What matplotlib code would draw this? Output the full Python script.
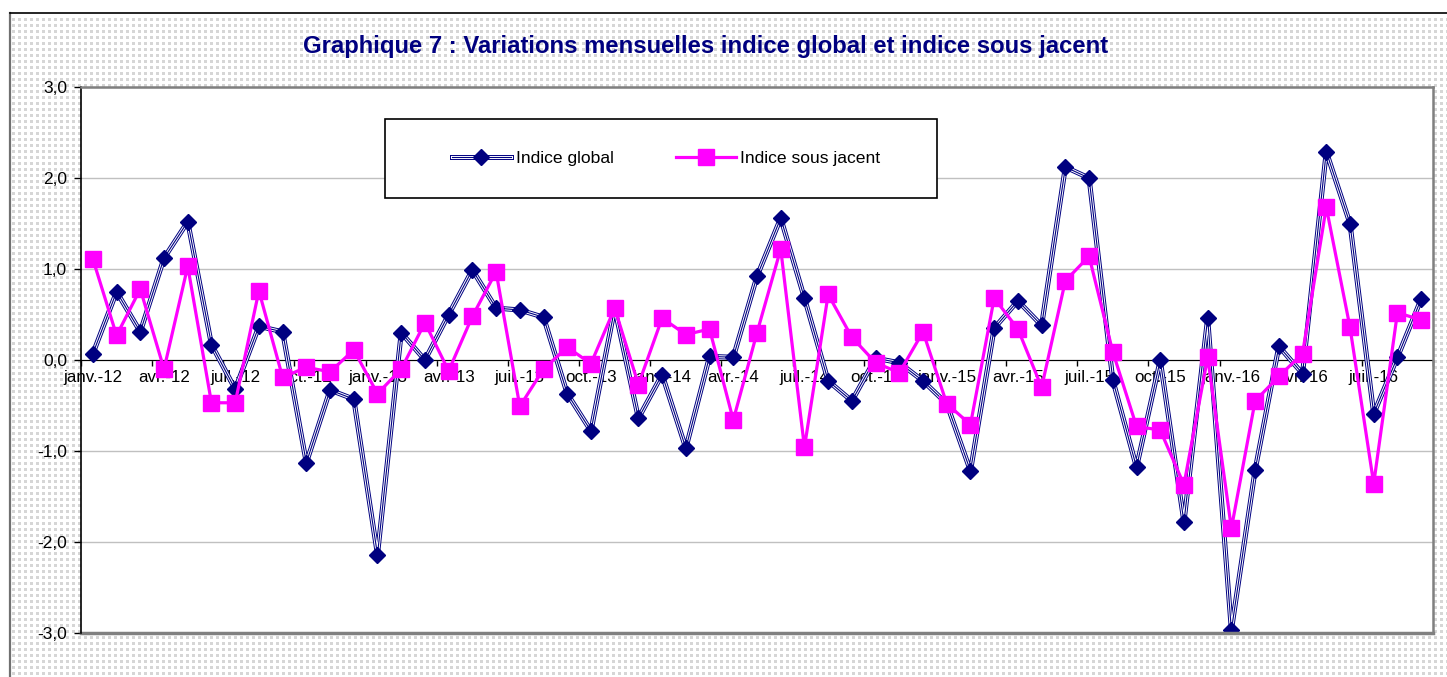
import numpy as np
import matplotlib
matplotlib.use('Agg')
import matplotlib.pyplot as plt
from matplotlib.lines import Line2D
from matplotlib.patches import Rectangle

plt.rcParams['font.family'] = ['Liberation Sans', 'DejaVu Sans']

mois = ['janv.', 'févr.', 'mars', 'avr.', 'mai', 'juin', 'juil.', 'août', 'sept.', 'oct.', 'nov.', 'déc.']
annees = ['12', '13', '14', '15', '16']
dates = [m + '-' + a for a in annees for m in mois][:57]

indice_global = [0.07, 0.75, 0.31, 1.12, 1.52, 0.17, -0.32, 0.37, 0.31, -1.13, -0.33, -0.43,
                 -2.14, 0.30, 0.00, 0.50, 0.99, 0.57, 0.55, 0.47, -0.37, -0.78, 0.57, -0.64,
                 -0.16, -0.97, 0.04, 0.03, 0.92, 1.56, 0.68, -0.23, -0.45, 0.02, -0.03, -0.23,
                 -0.48, -1.22, 0.35, 0.65, 0.38, 2.12, 2.00, -0.22, -1.18, 0.00, -1.78, 0.46,
                 -2.97, -1.21, 0.15, -0.15, 2.29, 1.50, -0.59, 0.03, 0.67]
indice_sous_jacent = [1.11, 0.27, 0.78, -0.10, 1.03, -0.47, -0.47, 0.76, -0.19, -0.08, -0.13, 0.11,
                      -0.37, -0.10, 0.41, -0.12, 0.48, 0.97, -0.51, -0.10, 0.14, -0.04, 0.57, -0.27,
                      0.46, 0.28, 0.34, -0.66, 0.30, 1.22, -0.96, 0.72, 0.25, -0.03, -0.14, 0.31,
                      -0.48, -0.71, 0.68, 0.34, -0.30, 0.87, 1.14, 0.09, -0.73, -0.77, -1.37, 0.03,
                      -1.85, -0.45, -0.18, 0.07, 1.68, 0.36, -1.36, 0.52, 0.44]
y_ticks = [-3, -2, -1, 0, 1, 2, 3]

navy = '#000080'
magenta = '#FF00FF'
W, H = 1447, 677

fig = plt.figure(figsize=(W / 100, H / 100), dpi=100)
fig.patch.set_facecolor('white')

# dotted background (excel pattern)
bg = np.ones((H, W, 3))
rr, cc = np.mgrid[0:H, 0:W]
dots = (rr % 6 < 3) & (cc % 6 < 3) & (rr >= 15) & (cc >= 12)
bg[dots] = 0.84
fig.figimage(bg, 0, 0, zorder=0)
fig.add_artist(Line2D([10 / W, 10 / W], [0, 1 - 13 / H], color='#707070', lw=1.6, zorder=1))
fig.add_artist(Line2D([10 / W, 1], [1 - 13 / H, 1 - 13 / H], color='black', lw=1.2, zorder=1))

ax = fig.add_axes([81 / W, 44 / H, (1433 - 81) / W, (633 - 87) / H])
ax.set_zorder(2)
ax.set_facecolor('white')
ax.set_axisbelow(True)

# axe des x sur la ligne 0 (a faire avant les ticks sinon ils sont reinitialises)
ax.spines['bottom'].set_position(('data', 0))
ax.spines['bottom'].set_zorder(1)
ax.spines['left'].set_linewidth(1.2)
for s in ['top', 'right']:
    ax.spines[s].set_color('#808080')
    ax.spines[s].set_linewidth(1.8)

x = np.arange(len(dates))
ax.plot(x, indice_global, color=navy, lw=3.6)
ax.plot(x, indice_global, color='white', lw=2.2)
ax.plot(x, indice_global, color=navy, lw=0.8)
ax.plot(x, indice_global, 'D', color=navy, ms=8.5)
ax.plot(x, indice_sous_jacent, color=magenta, lw=2.3, marker='s', ms=11.5)

ax.set_xlim(-0.5, len(dates) - 0.5)
ax.set_ylim(-3, 3)
ax.set_yticks(y_ticks)
ax.set_yticklabels([('%.1f' % v).replace('.', ',') for v in y_ticks])
ax.tick_params(axis='y', length=5, width=1, pad=5, labelsize=12.5)
ax.yaxis.grid(True, color='#c0c0c0', lw=1)

ax.set_xticks(np.arange(-0.5, len(dates), 3))
ax.set_xticklabels([])
ax.set_xticks(x[::3], minor=True)
ax.set_xticklabels(dates[::3], minor=True)
ax.tick_params(axis='x', which='major', length=4, width=1, direction='out')
ax.tick_params(axis='x', which='minor', length=0, pad=7.5, labelsize=12.2)

ax.axhline(-3, color='#808080', lw=2.5, clip_on=False)

fig.text(706 / W, 1 - 47 / H, 'Graphique 7 : Variations mensuelles indice global et indice sous jacent',
         ha='center', va='center', fontsize=17.2, fontweight='bold', color=navy)

# legend box
box = Rectangle((385 / W, 1 - 198 / H), 552 / W, 79 / H, transform=fig.transFigure,
                facecolor='white', edgecolor='black', lw=1.2, zorder=5, clip_on=False)
ax.add_artist(box)
h1 = (Line2D([], [], color=navy, lw=3.6), Line2D([], [], color='white', lw=2.2),
      Line2D([], [], color=navy, lw=0.8), Line2D([], [], color=navy, marker='D', ms=8.5, ls=''))
h2 = Line2D([], [], color=magenta, lw=2.3, marker='s', ms=11.5)
leg = ax.legend([h1, h2], ['Indice global', 'Indice sous jacent'], ncol=2, frameon=False,
                loc='center', bbox_to_anchor=(666 / W, 1 - 158.5 / H), bbox_transform=fig.transFigure,
                fontsize=12.6, handlelength=3.4, columnspacing=3.6, handletextpad=0.25, numpoints=1)
leg.set_zorder(6)

fig.savefig('out.png', dpi=100)
